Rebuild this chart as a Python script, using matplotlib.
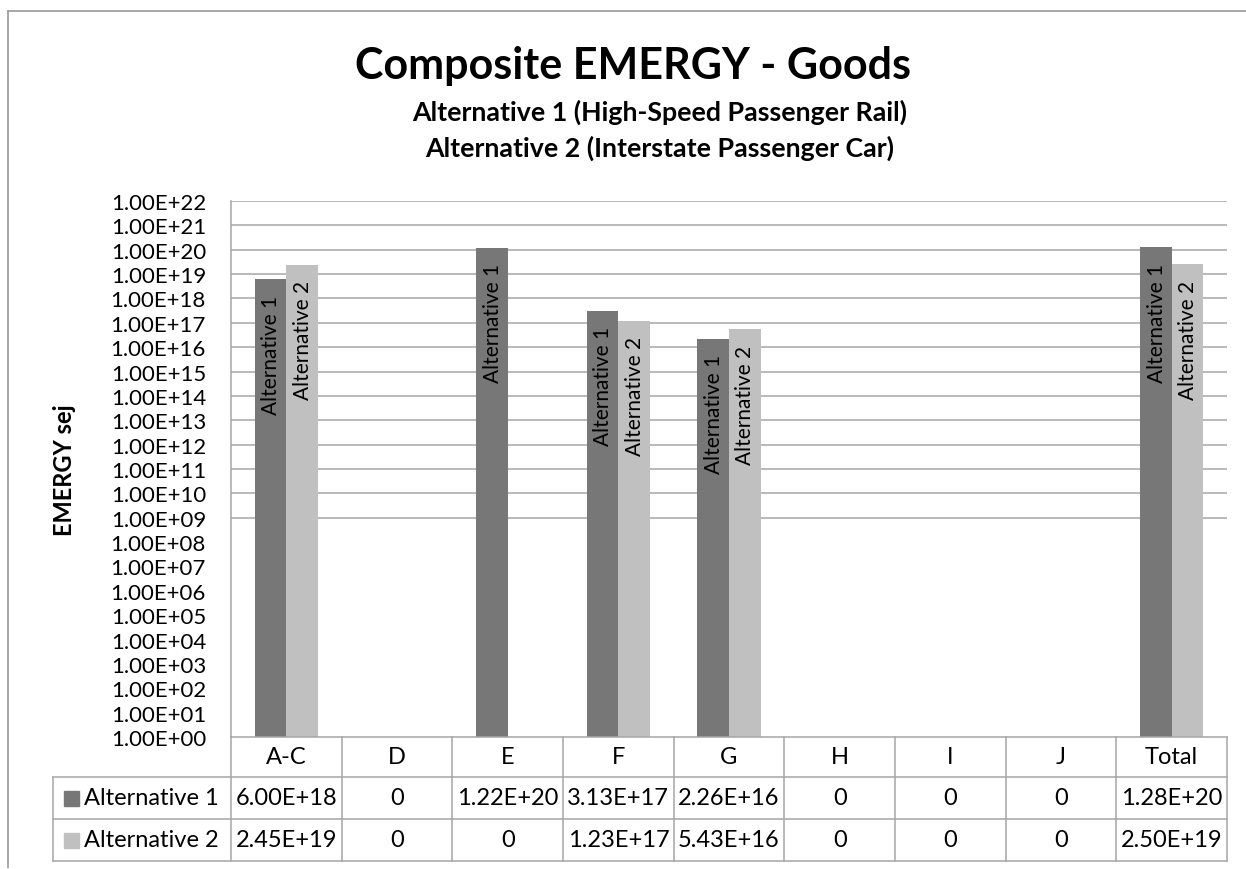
import matplotlib
matplotlib.use("Agg")
import matplotlib.pyplot as plt
from matplotlib.patches import Rectangle
from matplotlib.lines import Line2D

categories = ["A-C", "D", "E", "F", "G", "H", "I", "J", "Total"]
series_names = ["Alternative 1", "Alternative 2"]
alt1 = [6.00e18, 0, 1.22e20, 3.13e17, 2.26e16, 0, 0, 0, 1.28e20]
alt2 = [2.45e19, 0, 0, 1.23e17, 5.43e16, 0, 0, 0, 2.50e19]
alt1_text = ["6.00E+18", "0", "1.22E+20", "3.13E+17", "2.26E+16", "0", "0", "0", "1.28E+20"]
alt2_text = ["2.45E+19", "0", "0", "1.23E+17", "5.43E+16", "0", "0", "0", "2.50E+19"]
title = "Composite EMERGY - Goods"
subtitle1 = "Alternative 1 (High-Speed Passenger Rail)"
subtitle2 = "Alternative 2 (Interstate Passenger Car)"
ylabel = "EMERGY sej"

FONT = ["Lato", "DejaVu Sans"]
plt.rcParams["font.family"] = FONT

W, H = 1246, 870
DPI = 100
fig = plt.figure(figsize=(W / DPI, H / DPI), dpi=DPI)
fig.patch.set_facecolor("white")

def fx(px):
    return px / W

def fy(py):
    return 1 - py / H

dark = "#777777"
light = "#c0c0c0"
grid_c = "#a6a6a6"
tick_size = 16
table_size = 17
bar_size = 15

# chart area border (left and top visible)
fig.add_artist(Line2D([fx(8), fx(8)], [fy(12), fy(868)], color="#a0a0a0", lw=1.3))
fig.add_artist(Line2D([fx(8), fx(1246)], [fy(12), fy(12)], color="#a0a0a0", lw=1.3))

# titles
fig.text(fx(633), fy(66), title, ha="center", va="center", fontsize=31, fontweight="bold")
fig.text(fx(660), fy(112), subtitle1, ha="center", va="center", fontsize=19.3, fontweight="bold")
fig.text(fx(660), fy(148), subtitle2, ha="center", va="center", fontsize=19.3, fontweight="bold")

# plot area
L, R, T, B = 231, 1227, 202, 738
ax = fig.add_axes([fx(L), fy(B), fx(R - L), (B - T) / H])
ax.set_yscale("log")
ax.set_ylim(1, 1e22)
n = len(categories)
ax.set_xlim(-0.5, n - 0.5)
bw = 0.285
for i in range(n):
    for k, (vals, col, off) in enumerate([(alt1, dark, -bw / 2), (alt2, light, bw / 2)]):
        v = vals[i]
        if v > 0:
            ax.bar(i + off, v, width=bw, bottom=1, color=col, zorder=3)
            ax.annotate(series_names[k], xy=(i + off, v), xytext=(0.5, -11),
                        textcoords="offset points", rotation=90, ha="center", va="top",
                        fontsize=bar_size, color="black", zorder=4)
for e in range(9, 23):
    ax.axhline(10.0 ** e, color=grid_c, lw=1.1, zorder=1)
ax.set_yticks([10.0 ** e for e in range(0, 23)])
ax.set_yticklabels(["1.00E+%02d" % e for e in range(0, 23)], fontsize=tick_size)
ax.yaxis.set_minor_locator(matplotlib.ticker.NullLocator())
ax.tick_params(axis="y", length=0, pad=18)
ax.set_xticks([])
for s in ["top", "right", "bottom"]:
    ax.spines[s].set_visible(False)
ax.spines["left"].set_color(grid_c)
ax.spines["left"].set_linewidth(1.1)
ax.set_ylabel(ylabel, fontsize=17, fontweight="bold", labelpad=25)

# data table
TL = 53
TB = 862
catw = (R - L) / n
xl = -0.5 - (L - TL) / catw
tax = fig.add_axes([fx(TL), fy(TB), fx(R - TL), (TB - B) / H])
tax.set_xlim(xl, n - 0.5)
tax.set_ylim(TB, B)
tax.axis("off")
row_y = [B, 778, 820, TB]
lc = grid_c
lw = 1.1
tax.plot([-0.5, n - 0.5], [row_y[0], row_y[0]], color=lc, lw=lw, clip_on=False)
for yy in row_y[1:]:
    tax.plot([xl, n - 0.5], [yy, yy], color=lc, lw=lw, clip_on=False)
for j in range(n + 1):
    tax.plot([j - 0.5, j - 0.5], [row_y[0], row_y[3]], color=lc, lw=lw, clip_on=False)
tax.plot([xl, xl], [row_y[1], row_y[3]], color=lc, lw=lw, clip_on=False)

for i, c in enumerate(categories):
    tax.text(i, (row_y[0] + row_y[1]) / 2, c, ha="center", va="center", fontsize=table_size)
    tax.text(i, (row_y[1] + row_y[2]) / 2, alt1_text[i], ha="center", va="center", fontsize=table_size)
    tax.text(i, (row_y[2] + row_y[3]) / 2, alt2_text[i], ha="center", va="center", fontsize=table_size)

for r, (name, col) in enumerate(zip(series_names, [dark, light])):
    yc = (row_y[r + 1] + row_y[r + 2]) / 2
    fig.add_artist(Rectangle((fx(64), fy(yc + 7.5)), fx(15), 15 / H, color=col,
                             transform=fig.transFigure))
    fig.text(fx(84), fy(yc), name, ha="left", va="center", fontsize=table_size)

fig.savefig("out.png", dpi=DPI)
